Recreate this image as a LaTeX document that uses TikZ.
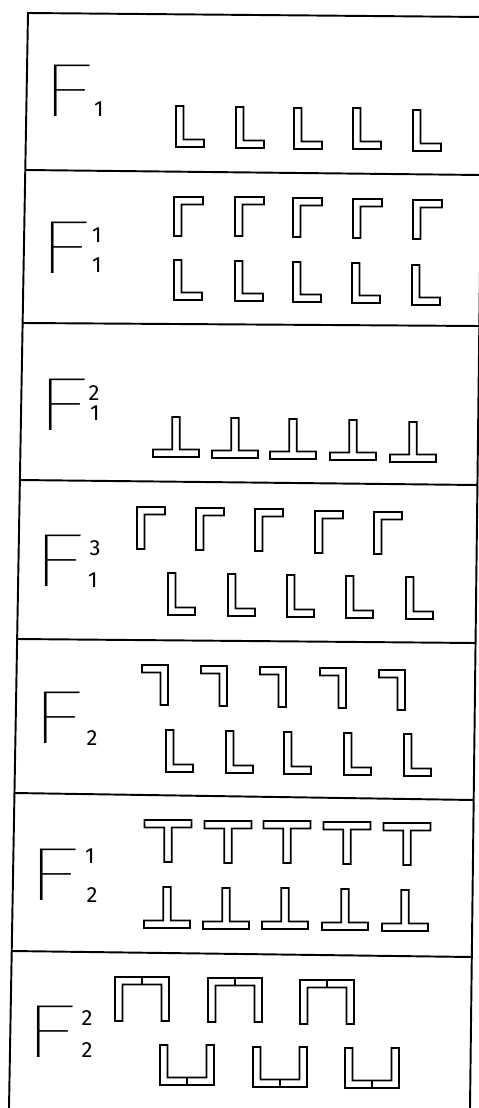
\documentclass[tikz,border=0pt]{standalone}
\usepackage{fontspec}
\setmainfont{Fira Sans}
\IfFontExistsTF{Fira Sans Thin}
  {\newfontfamily\thinfont{Fira Sans Thin}}
  {\IfFontExistsTF{Fira Sans Light}
    {\newfontfamily\thinfont{Fira Sans Light}}
    {\newfontfamily\thinfont{Fira Sans}}}
\usepackage{tikz}
\def\wall{7.5}
% section outlines: #1,#2 = left (or centre) and top, #3 = width, #4 = height
\newcommand{\angleL}[4]{\draw[profile] (#1,#2) -- ++(\wall,0) -- ++(0,{#4-\wall})
  -- ++({#3-\wall},0) -- ++(0,\wall) -- ++({-#3},0) -- cycle;}
\newcommand{\angleG}[4]{\draw[profile] (#1,#2) -- ++(#3,0) -- ++(0,\wall)
  -- ++({\wall-#3},0) -- ++(0,{#4-\wall}) -- ++({-\wall},0) -- cycle;}
\newcommand{\angleR}[4]{\draw[profile] (#1,#2) -- ++(#3,0) -- ++(0,#4)
  -- ++({-\wall},0) -- ++(0,{\wall-#4}) -- ++({\wall-#3},0) -- cycle;}
\newcommand{\teeUp}[4]{\draw[profile] ({#1-\wall/2},#2) -- ++(\wall,0) -- ++(0,{#4-\wall})
  -- ++({(#3-\wall)/2},0) -- ++(0,\wall) -- ++({-#3},0) -- ++(0,{-\wall})
  -- ++({(#3-\wall)/2},0) -- cycle;}
\newcommand{\teeDown}[4]{\draw[profile] ({#1-#3/2},#2) -- ++(#3,0) -- ++(0,\wall)
  -- ++({(\wall-#3)/2},0) -- ++(0,{#4-\wall}) -- ++({-\wall},0) -- ++(0,{\wall-#4})
  -- ++({(\wall-#3)/2},0) -- cycle;}
\newcommand{\chanDown}[4]{\draw[profile] (#1,#2) -- ++(#3,0) -- ++(0,#4) -- ++({-\wall},0)
  -- ++(0,{\wall-#4}) -- ++({2*\wall-#3},0) -- ++(0,{#4-\wall}) -- ++({-\wall},0) -- cycle
  ({#1+#3/2},#2) -- ++(0,\wall);}
\newcommand{\chanUp}[4]{\draw[profile] (#1,#2) -- ++(\wall,0) -- ++(0,{#4-\wall})
  -- ++({#3-2*\wall},0) -- ++(0,{\wall-#4}) -- ++(\wall,0) -- ++(0,#4) -- ++({-#3},0) -- cycle
  ({#1+#3/2},{#2+#4}) -- ++(0,{-\wall});}
\newcommand{\plotF}{\makebox[16pt][l]{F}}

\begin{document}
\begin{tikzpicture}[x=0.02cm,y=-0.02cm,
  frame/.style={line width=1.1pt},
  profile/.style={line width=0.95pt,line join=miter},
  bigF/.style={inner sep=0pt,anchor=base west,xscale=1.5,
               font=\thinfont\fontsize{43}{43}\selectfont},
  digit/.style={inner sep=0pt,anchor=base,font=\fontsize{12.5}{13}\selectfont}]
  \useasboundingbox (0,0) rectangle (478,1108);

  % table frame (the sheet sits slightly askew)
  \coordinate (tl) at (28,13);
  \coordinate (bl) at (9,1108);
  \coordinate (tr) at (483,17);
  \coordinate (br) at (470,1108);
  \draw[frame] (bl) -- (tl) -- (tr) -- (br);
  \foreach \yl/\xl/\yr/\xr in {170/25.3/175/481, 323/22.6/326/479.3, 480/19.8/485/477.4,
                               639/17/643/475.5, 793/14.3/800/473.7, 951/11.6/957/471.8}
    \draw[frame] (\xl,\yl) -- (\xr,\yr);

  % row labels
  \node[bigF] (r1F) at (40,117) {\plotF};
  \node[digit] (r1lo) at (99,117) {1};

  \node[bigF] (r2F) at (37,273) {\plotF};
  \node[digit] (r2hi) at (97,242) {1};
  \node[digit] (r2lo) at (97,272) {1};

  \node[bigF] (r3F) at (35,430) {\plotF};
  \node[digit] (r3hi) at (94,400) {2};
  \node[digit] (r3lo) at (95,420) {1};

  \node[bigF] (r4F) at (31,586) {\plotF};
  \node[digit] (r4hi) at (95,555) {3};
  \node[digit] (r4lo) at (93,587) {1};

  \node[bigF] (r5F) at (30,743) {\plotF};
  \node[digit] (r5lo) at (92,745) {2};

  \node[bigF] (r6F) at (26,900) {\plotF};
  \node[digit] (r6hi) at (90,863) {1};
  \node[digit] (r6lo) at (92,902) {2};

  \node[bigF] (r7F) at (23,1057) {\plotF};
  \node[digit] (r7hi) at (87,1025) {2};
  \node[digit] (r7lo) at (87,1057) {2};

  % row 1
  \foreach \x/\y in {176/106,236/107,294/108,353/108,413/110}
    {\angleL{\x}{\y}{28}{41}}
  % row 2
  \foreach \x/\y in {174/197,235/197,293/198,353/199,413/200}
    {\angleG{\x}{\y}{29}{39}}
  \foreach \x/\y in {174/260,235/261,293/262,352/263,412/265}
    {\angleL{\x}{\y}{28}{40}}
  % row 3
  \foreach \x/\y in {176/417,235/418,293/419,353/420,413/422}
    {\teeUp{\x}{\y}{46}{40}}
  % row 4
  \foreach \x/\y in {137/507,196/508,255/509,315/511,374/512}
    {\angleG{\x}{\y}{28}{42}}
  \foreach \x/\y in {168/573,228/574,287/575,346/576,406/577}
    {\angleL{\x}{\y}{27}{42}}
  % row 5
  \foreach \x/\y in {142/665,201/666,260/667,320/668,379/670}
    {\angleR{\x}{\y}{26}{40}}
  \foreach \x/\y in {166/730,226/731,284/732,344/733,404/734}
    {\angleL{\x}{\y}{27}{42}}
  % row 6
  \foreach \x/\y in {168/820,228/821,287/821,347/822,407/823}
    {\teeDown{\x}{\y}{47}{42}}
  \foreach \x/\y in {167/887,226/888,285/888,345/889,405/890}
    {\teeUp{\x}{\y}{46}{41}}
  % row 7
  \foreach \x/\y in {115/977,208/978,300/980}
    {\chanDown{\x}{\y}{54}{44}}
  \foreach \x/\y in {160/1045,253/1047,345/1048}
    {\chanUp{\x}{\y}{54}{40}}
\end{tikzpicture}
\end{document}
